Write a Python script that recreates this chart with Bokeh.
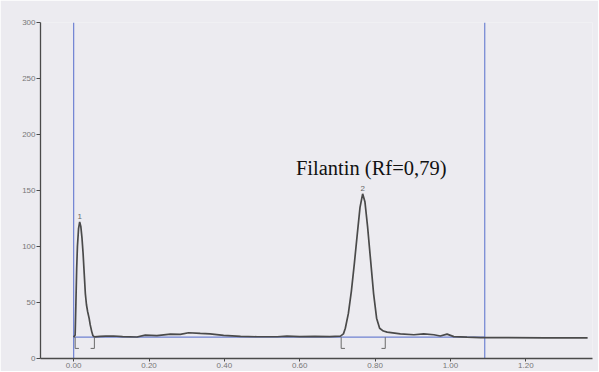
from bokeh.plotting import figure
from bokeh.models import FixedTicker, Range1d, NumeralTickFormatter
from bokeh.embed import file_html
from bokeh.resources import INLINE
from bokeh.core.properties import value

# Densitogram trace (Rf vs. signal)
rf = [0.000, 0.004, 0.006, 0.008, 0.010, 0.013, 0.016, 0.019, 0.022, 0.025,
      0.028, 0.031, 0.034, 0.037, 0.041, 0.044, 0.048, 0.051, 0.055, 0.070,
      0.085, 0.106, 0.130, 0.168, 0.190, 0.221, 0.257, 0.283, 0.305, 0.336,
      0.362, 0.398, 0.443, 0.487, 0.540, 0.566, 0.600, 0.640, 0.680, 0.708,
      0.716, 0.721, 0.729, 0.737, 0.745, 0.753, 0.760, 0.767, 0.773, 0.780,
      0.788, 0.796, 0.804, 0.812, 0.822, 0.832, 0.867, 0.903, 0.929, 0.956,
      0.973, 0.991, 1.009, 1.044, 1.080, 1.150, 1.250, 1.364]
signal = [19.0, 21.0, 50.0, 80.0, 100.0, 116.0, 122.0, 118.0, 108.0, 94.0,
          76.0, 58.0, 48.0, 42.0, 36.0, 30.0, 24.0, 20.5, 19.3, 19.7,
          19.9, 20.1, 19.6, 19.2, 20.8, 20.5, 21.8, 21.5, 23.0, 22.4,
          22.0, 20.6, 19.7, 19.4, 19.4, 20.0, 19.6, 19.8, 19.5, 20.0,
          22.0, 27.0, 40.0, 60.0, 85.0, 112.0, 135.0, 147.0, 140.0, 118.0,
          88.0, 58.0, 36.0, 27.0, 24.5, 23.5, 22.0, 21.2, 22.0, 21.2,
          20.1, 21.8, 19.5, 19.0, 18.7, 18.6, 18.5, 18.5]

# peaks
peak_ids = ["1", "2"]
peak_rf = [0.016, 0.767]
peak_height = [122, 147]

# integration limits (bracket markers): position and side (+1 start, -1 end)
limit_rf = [0.004, 0.055, 0.710, 0.827]
limit_side = [1, -1, 1, -1]

# baseline and track window
baseline = 19
track_start = 0.0
track_end = 1.091

x_ticks = [0.0, 0.2, 0.4, 0.6, 0.8, 1.0, 1.2]
y_ticks = [0, 50, 100, 150, 200, 250, 300]

annotation = "Filantin (Rf=0,79)"

BG = "#ecebf0"
TRACE = "#4a4a4a"
BLUE = "#6f82d2"

p = figure(frame_width=552, frame_height=336,
           min_border_left=40, min_border_right=6,
           min_border_top=22, min_border_bottom=13,
           x_range=Range1d(-0.088, 1.377), y_range=Range1d(0, 300),
           output_backend="svg", toolbar_location=None,
           background_fill_color=BG, border_fill_color=BG)
p.outline_line_color = None
p.grid.visible = False

for ax in (p.xaxis[0], p.yaxis[0]):
    ax.axis_line_color = "#4a4a4a"
    ax.axis_line_width = 1.3
    ax.major_tick_line_color = "#4a4a4a"
    ax.major_tick_in = 0
    ax.minor_tick_line_color = None
    ax.major_label_text_font = "Liberation Sans"
    ax.major_label_text_font_size = "8px"
    ax.major_label_text_color = "#777777"
    ax.major_label_standoff = 1

p.xaxis.ticker = FixedTicker(ticks=x_ticks)
p.xaxis.formatter = NumeralTickFormatter(format="0.00")
p.xaxis.major_tick_out = 3
p.yaxis.ticker = FixedTicker(ticks=y_ticks)
p.yaxis.major_tick_out = 4

# blue track window lines
p.segment(x0=[track_start, track_end, track_start], y0=[0, 0, baseline],
          x1=[track_start, track_end, track_end], y1=[300, 300, baseline],
          line_color=BLUE, line_width=1.2)

# trace
p.line(rf, signal, line_color=TRACE, line_width=1.7)

# integration bracket markers
foot = 0.010
bottom = baseline - 10
xs = [[x + s * foot, x, x] for x, s in zip(limit_rf, limit_side)]
ys = [[bottom, bottom, baseline] for _ in limit_rf]
p.multi_line(xs, ys, line_color="#6a6a6a", line_width=1.0)

# peak numbers
p.text(x=peak_rf, y=[h + 3 for h in peak_height], text=peak_ids,
       text_font=value("Liberation Sans"), text_font_size="8px",
       text_color="#666666", text_align="center", text_baseline="bottom")

# annotation
p.text(x=[0.590], y=[170], text=[annotation],
       text_font=value("Liberation Serif"), text_font_size="20.5px",
       text_color="#111111", text_align="left", text_baseline="alphabetic")

open("out.html", "w").write(file_html(p, INLINE))
